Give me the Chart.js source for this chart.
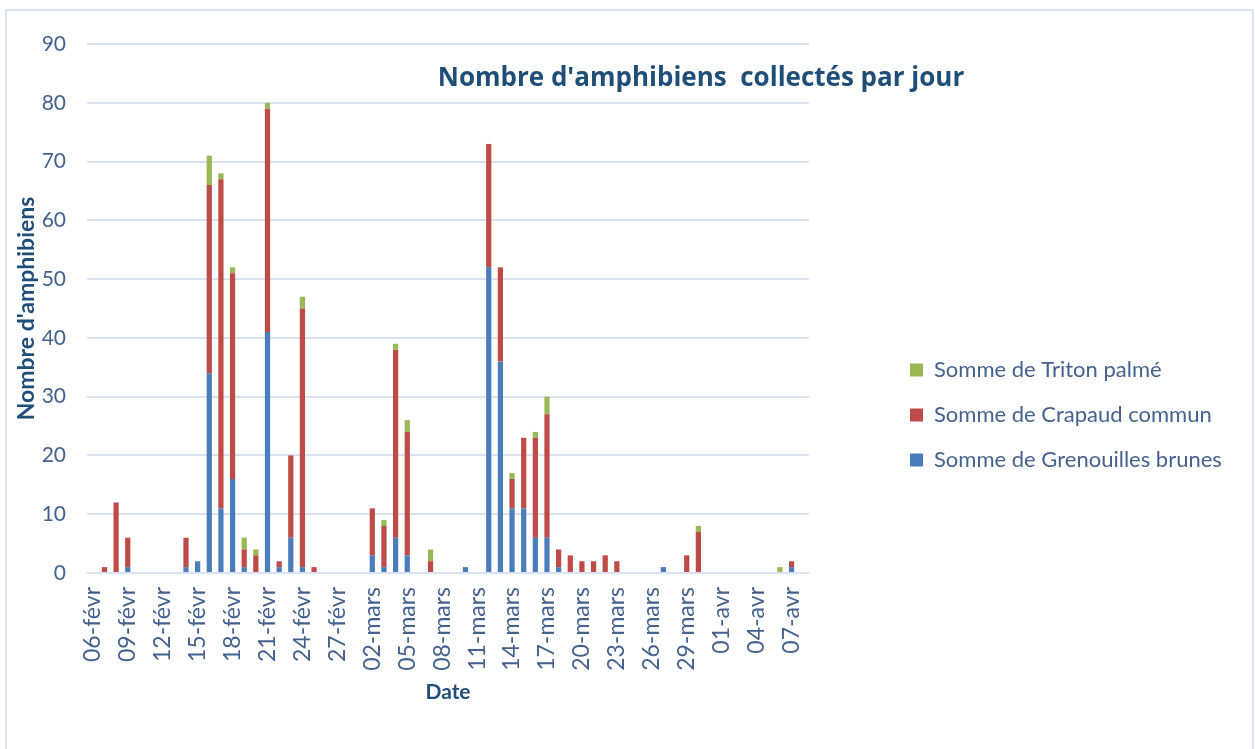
<!DOCTYPE html>
<html lang="fr">
<head>
<meta charset="utf-8">
<title>Nombre d'amphibiens collectés par jour</title>
<script src="https://cdn.jsdelivr.net/npm/chart.js@4.4.1/dist/chart.umd.min.js"></script>
<style>
  html, body { margin: 0; padding: 0; background: #fff; }
  #wrap { position: relative; width: 1255px; height: 749px; overflow: hidden; }
  #frame { position: absolute; left: 5px; top: 9px; width: 1249px; height: 800px;
           border: 2px solid #DAE3F3; box-sizing: border-box; }
  #chart { position: absolute; left: 0; top: 0; }
</style>
</head>
<body>
<div id="wrap">
  <div id="frame"></div>
  <canvas id="chart" width="1255" height="749"></canvas>
</div>
<script>
// one label per day, 06-févr -> 08-avr
const dates = [
  '06-févr', '07-févr', '08-févr', '09-févr', '10-févr', '11-févr', '12-févr', '13-févr',
  '14-févr', '15-févr', '16-févr', '17-févr', '18-févr', '19-févr', '20-févr', '21-févr',
  '22-févr', '23-févr', '24-févr', '25-févr', '26-févr', '27-févr', '28-févr',
  '01-mars', '02-mars', '03-mars', '04-mars', '05-mars', '06-mars', '07-mars', '08-mars',
  '09-mars', '10-mars', '11-mars', '12-mars', '13-mars', '14-mars', '15-mars', '16-mars',
  '17-mars', '18-mars', '19-mars', '20-mars', '21-mars', '22-mars', '23-mars', '24-mars',
  '25-mars', '26-mars', '27-mars', '28-mars', '29-mars', '30-mars', '31-mars',
  '01-avr', '02-avr', '03-avr', '04-avr', '05-avr', '06-avr', '07-avr', '08-avr'
];

// févr (23 jours) / mars (31) / avr (8)
const grenouilles = [
  0, 0, 0, 1, 0, 0, 0, 0, 1, 2, 34, 11, 16, 1, 0, 41, 1, 6, 1, 0, 0, 0, 0,
  0, 3, 1, 6, 3, 0, 0, 0, 0, 1, 0, 52, 36, 11, 11, 6, 6, 1, 0, 0, 0, 0, 0, 0, 0, 0, 1, 0, 0, 0, 0,
  0, 0, 0, 0, 0, 0, 1, 0
];
const crapaud = [
  0, 1, 12, 5, 0, 0, 0, 0, 5, 0, 32, 56, 35, 3, 3, 38, 1, 14, 44, 1, 0, 0, 0,
  0, 8, 7, 32, 21, 0, 2, 0, 0, 0, 0, 21, 16, 5, 12, 17, 21, 3, 3, 2, 2, 3, 2, 0, 0, 0, 0, 0, 3, 7, 0,
  0, 0, 0, 0, 0, 0, 1, 0
];
const triton = [
  0, 0, 0, 0, 0, 0, 0, 0, 0, 0, 5, 1, 1, 2, 1, 1, 0, 0, 2, 0, 0, 0, 0,
  0, 0, 1, 1, 2, 0, 2, 0, 0, 0, 0, 0, 0, 1, 0, 1, 3, 0, 0, 0, 0, 0, 0, 0, 0, 0, 0, 0, 0, 1, 0,
  0, 0, 0, 0, 0, 1, 0, 0
];

const TITLE = "Nombre d'amphibiens  collectés par jour";
const FONT = 'Lato, "Open Sans", sans-serif';
const TEXT_COLOR = '#44628F';
const TITLE_COLOR = '#1F4E79';

// title sits inside the plot, like in the spreadsheet
const chartTitle = {
  id: 'chartTitle',
  afterDraw(chart) {
    const ctx = chart.ctx;
    ctx.save();
    ctx.font = 'bold 26px "Open Sans", Lato, sans-serif';
    ctx.fillStyle = TITLE_COLOR;
    ctx.textAlign = 'center';
    ctx.textBaseline = 'alphabetic';
    ctx.fillText(TITLE, 701, 86);
    ctx.restore();
  }
};

// legend: fixed width on the right, items pushed away from the plot
const legendPlace = {
  id: 'legendPlace',
  afterInit(chart) {
    const lg = chart.legend;
    const fit = lg.fit;
    lg.fit = function () {
      fit.call(this);
      this.width = 1255 - 809;
    };
  },
  afterLayout(chart) {
    const lg = chart.legend;
    lg.left = 910 - 23;
    lg.top = 370 - 23 - 11;
  }
};

new Chart(document.getElementById('chart'), {
  type: 'bar',
  data: {
    labels: dates,
    datasets: [
      { label: 'Somme de Grenouilles brunes', data: grenouilles, backgroundColor: '#4A7EBB' },
      { label: 'Somme de Crapaud commun', data: crapaud, backgroundColor: '#BE4B48' },
      { label: 'Somme de Triton palmé', data: triton, backgroundColor: '#98B954' }
    ]
  },
  options: {
    responsive: false,
    animation: false,
    devicePixelRatio: 1,
    datasets: {
      bar: { categoryPercentage: 1, barPercentage: 0.45, borderWidth: 0 }
    },
    layout: { padding: { left: 0, right: 0, top: 44, bottom: 0 } },
    plugins: {
      tooltip: { enabled: false },
      legend: {
        position: 'right',
        align: 'start',
        reverse: true,
        labels: {
          boxWidth: 13,
          boxHeight: 13,
          padding: 23,
          color: TEXT_COLOR,
          font: { family: FONT, size: 22 }
        }
      }
    },
    scales: {
      x: {
        stacked: true,
        grid: { display: false, drawTicks: false },
        border: { display: false },
        ticks: {
          autoSkip: false,
          minRotation: 90,
          maxRotation: 90,
          padding: 14,
          color: TEXT_COLOR,
          font: { family: FONT, size: 23 },
          callback: function (v, i) {
            return i % 3 === 0 ? this.getLabelForValue(v) : null;
          }
        },
        title: {
          display: true,
          text: 'Date',
          color: TITLE_COLOR,
          font: { family: FONT, size: 21, weight: 'bold' },
          padding: { top: 0, bottom: 44 }
        },
        afterFit(s) { s.height = 749 - 573; }
      },
      y: {
        stacked: true,
        min: 0,
        max: 90,
        ticks: {
          stepSize: 10,
          padding: 21,
          color: TEXT_COLOR,
          font: { family: FONT, size: 21 }
        },
        grid: { color: '#D9E2F3', lineWidth: 2, drawTicks: false },
        border: { display: false },
        title: {
          display: true,
          text: "Nombre d'amphibiens",
          color: TITLE_COLOR,
          font: { family: FONT, size: 23, weight: 'bold' },
          padding: { top: 13, bottom: 0 }
        },
        afterFit(s) { s.width = 87; }
      }
    }
  },
  plugins: [chartTitle, legendPlace]
});
</script>
</body>
</html>
